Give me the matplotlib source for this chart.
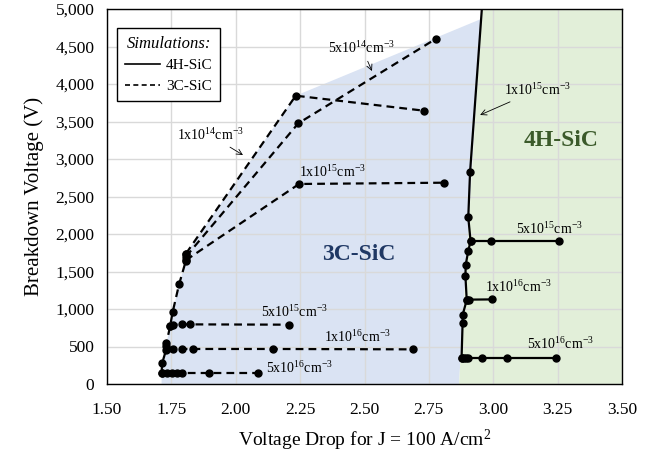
import matplotlib
matplotlib.use("Agg")
import matplotlib.pyplot as plt
from matplotlib.lines import Line2D

plt.rcParams['font.family'] = ['Liberation Serif', 'DejaVu Serif']
plt.rcParams['mathtext.fontset'] = 'custom'
plt.rcParams['mathtext.rm'] = 'Liberation Serif'
plt.rcParams['mathtext.it'] = 'Liberation Serif:italic'
plt.rcParams['mathtext.bf'] = 'Liberation Serif:bold'

# ---------------- data ----------------
# 4H-SiC simulations (solid)
h4_main_x = [2.877, 2.881, 2.881, 2.897, 2.892, 2.893, 2.903, 2.912, 2.903, 2.910, 2.962]
h4_main_y = [351, 818, 920, 1120, 1436, 1587, 1778, 1903, 2222, 2827, 5300]
h4_5e15_x = [2.912, 2.991, 3.255]
h4_5e15_y = [1903, 1903, 1903]
h4_1e16_x = [2.897, 2.905, 2.995]
h4_1e16_y = [1122, 1125, 1128]
h4_5e16_x = [2.877, 2.885, 2.893, 2.903, 2.958, 3.053, 3.242]
h4_5e16_y = [351, 351, 351, 351, 351, 351, 351]

# 3C-SiC simulations (dashed)
c3_main_x = [1.712, 1.714, 1.729, 1.730, 1.731, 1.745, 1.755, 1.780, 1.806, 1.807]
c3_main_y = [150, 275, 450, 505, 545, 770, 960, 1330, 1640, 1740]
c3_5e16_x = [1.712, 1.732, 1.751, 1.771, 1.790, 1.897, 2.085]
c3_5e16_y = [150, 150, 150, 150, 150, 150, 150]
c3_1e16_x = [1.732, 1.758, 1.790, 1.833, 2.143, 2.690]
c3_1e16_y = [467, 467, 467, 467, 467, 462]
c3_5e15_x = [1.745, 1.758, 1.790, 1.822, 2.207]
c3_5e15_y = [770, 791, 795, 795, 791]
c3_1e15_x = [1.806, 2.246, 2.810]
c3_1e15_y = [1650, 2667, 2684]
c3_5e14_x = [1.807, 2.243, 2.776]
c3_5e14_y = [1700, 3476, 4600]
c3_1e14_x = [1.807, 2.233, 2.731]
c3_1e14_y = [1740, 3844, 3644]

# shaded regions
blue_x = [1.712] + c3_main_x + [2.233, 2.953, 2.867]
blue_y = [0] + c3_main_y + [3844, 4867, 0]
green_x = [2.867, 2.956, 3.5, 3.5]
green_y = [0, 5000, 5000, 0]

x_ticks = [1.50, 1.75, 2.00, 2.25, 2.50, 2.75, 3.00, 3.25, 3.50]
y_ticks = [0, 500, 1000, 1500, 2000, 2500, 3000, 3500, 4000, 4500, 5000]

# ---------------- figure ----------------
fig = plt.figure(figsize=(6.52, 4.54), dpi=100)
ax = fig.add_axes([107/652, 1-384/454, (622-107)/652, (384-9)/454])

ax.fill(blue_x, blue_y, color='#dae3f3', zorder=0.1, lw=0)
ax.fill(green_x, green_y, color='#e2efd9', zorder=0.1, lw=0)

dash = (0, (3.5, 2.3))
kw3 = dict(color='black', lw=1.6, linestyle=dash, marker='o', ms=5, zorder=3)
kw4 = dict(color='black', lw=1.6, linestyle='-', marker='o', ms=5, zorder=3)

for xs, ys in [(c3_main_x, c3_main_y), (c3_5e16_x, c3_5e16_y), (c3_1e16_x, c3_1e16_y),
               (c3_5e15_x, c3_5e15_y), (c3_1e15_x, c3_1e15_y), (c3_5e14_x, c3_5e14_y),
               (c3_1e14_x, c3_1e14_y)]:
    ax.plot(xs, ys, **kw3)
for xs, ys in [(h4_main_x, h4_main_y), (h4_5e15_x, h4_5e15_y), (h4_1e16_x, h4_1e16_y),
               (h4_5e16_x, h4_5e16_y)]:
    ax.plot(xs, ys, **kw4)

ax.set_xlim(1.5, 3.5)
ax.set_ylim(0, 5000)
ax.set_xticks(x_ticks)
ax.set_xticklabels([f"{v:.2f}" for v in x_ticks])
ax.set_yticks(y_ticks)
ax.set_yticklabels([f"{v:,}" for v in y_ticks])
ax.tick_params(length=0, labelsize=12.5)
ax.tick_params(axis='x', pad=13)
ax.tick_params(axis='y', pad=9)
ax.set_axisbelow(True)
ax.grid(True, color='#d9d9d9', lw=1)
for s in ax.spines.values():
    s.set_color('black')
    s.set_linewidth(1)

ax.set_xlabel(r'Voltage Drop for J = 100 A/cm$^2$', fontsize=14, labelpad=7)
ax.set_ylabel('Breakdown Voltage (V)', fontsize=15, labelpad=8)

afs = 10
ap = dict(arrowstyle='->', lw=0.6, color='black', shrinkA=2, shrinkB=0)
ax.annotate(r'1x10$^{14}$cm$^{-3}$', xy=(2.028, 3053), xytext=(1.900, 3320),
            ha='center', va='center', fontsize=afs, arrowprops=ap, zorder=5)
ax.annotate(r'5x10$^{14}$cm$^{-3}$', xy=(2.529, 4173), xytext=(2.490, 4480),
            ha='center', va='center', fontsize=afs, arrowprops=ap, zorder=5)
ax.annotate(r'1x10$^{15}$cm$^{-3}$', xy=(2.949, 3587), xytext=(3.170, 3920),
            ha='center', va='center', fontsize=afs, arrowprops=ap, zorder=5)
ax.text(2.374, 2827, r'1x10$^{15}$cm$^{-3}$', ha='center', va='center', fontsize=afs, zorder=5)
ax.text(2.226, 960, r'5x10$^{15}$cm$^{-3}$', ha='center', va='center', fontsize=afs, zorder=5)
ax.text(2.471, 627, r'1x10$^{16}$cm$^{-3}$', ha='center', va='center', fontsize=afs, zorder=5)
ax.text(2.246, 213, r'5x10$^{16}$cm$^{-3}$', ha='center', va='center', fontsize=afs, zorder=5)
ax.text(3.220, 2067, r'5x10$^{15}$cm$^{-3}$', ha='center', va='center', fontsize=afs, zorder=5)
ax.text(3.096, 1293, r'1x10$^{16}$cm$^{-3}$', ha='center', va='center', fontsize=afs, zorder=5)
ax.text(3.259, 533, r'5x10$^{16}$cm$^{-3}$', ha='center', va='center', fontsize=afs, zorder=5)

ax.text(3.263, 3253, '4H-SiC', ha='center', va='center', fontsize=17, fontweight='bold',
        color='#3b5a2a', zorder=5)
ax.text(2.479, 1733, '3C-SiC', ha='center', va='center', fontsize=17, fontweight='bold',
        color='#1f3864', zorder=5)

handles = [Line2D([], [], color='black', lw=1.2, linestyle='-'),
           Line2D([], [], color='black', lw=1.2, linestyle=(0, (3, 2)))]
leg = ax.legend(handles, ['4H-SiC', '3C-SiC'], title='Simulations:', loc='upper left',
                bbox_to_anchor=(0.0194, 0.949), fontsize=11, fancybox=False,
                framealpha=1, edgecolor='black', handlelength=2.3, handletextpad=0.4,
                borderpad=0.5, labelspacing=0.45, borderaxespad=0)
leg.get_title().set_fontstyle('italic')
leg.get_title().set_fontsize(12)
leg.get_frame().set_linewidth(1)
leg.set_zorder(6)

fig.savefig('out.png', dpi=100)
